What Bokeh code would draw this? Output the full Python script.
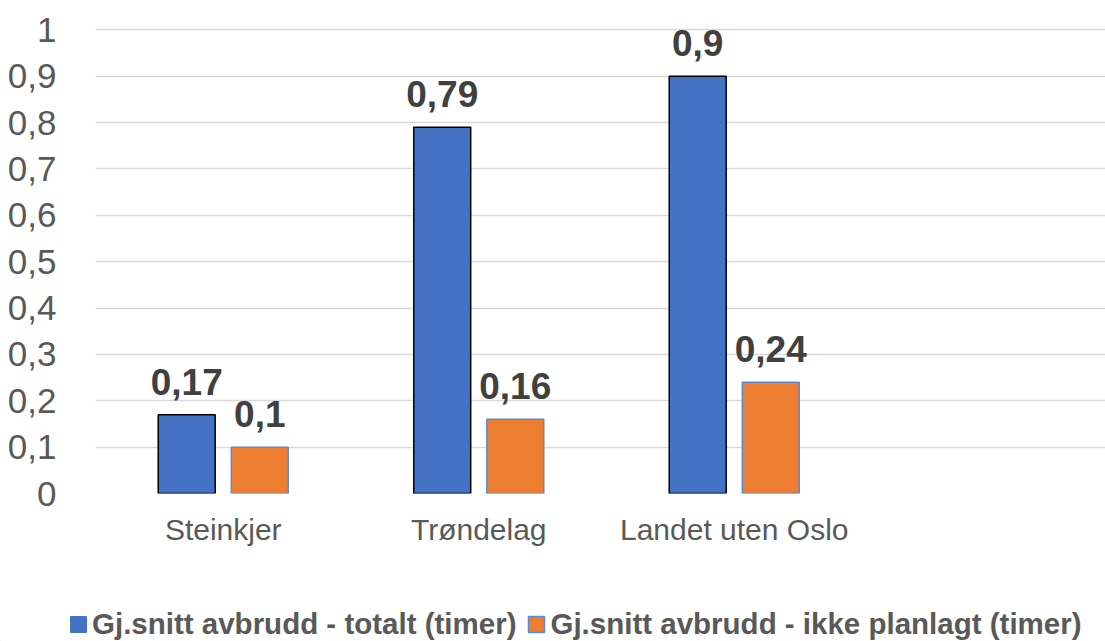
from bokeh.plotting import figure
from bokeh.models import ColumnDataSource, LabelSet, Legend, LegendItem, FixedTicker, Range1d
from bokeh.layouts import column
from bokeh.core.properties import value
from bokeh.embed import file_html
from bokeh.resources import INLINE

categories = ["Steinkjer", "Trøndelag", "Landet uten Oslo"]
totalt = [0.17, 0.79, 0.90]
ikke_planlagt = [0.10, 0.16, 0.24]
y_ticks = [0, 0.1, 0.2, 0.3, 0.4, 0.5, 0.6, 0.7, 0.8, 0.9, 1.0]
y_tick_labels = ["0", "0,1", "0,2", "0,3", "0,4", "0,5", "0,6", "0,7", "0,8", "0,9", "1"]
series_names = ["Gj.snitt avbrudd - totalt (timer)", "Gj.snitt avbrudd - ikke planlagt (timer)"]
colors = ["#4472C4", "#ED7D31"]
outlines = ["black", "#5B8BD6"]

FONT = "Liberation Sans"
centers = [i + 0.5 for i in range(len(categories))]
off = 0.143
bw = 0.223
W = 1105
FRAME_W = W - 95


def fmt(v):
    return ("%g" % v).replace(".", ",")


src1 = ColumnDataSource(dict(x=[c - off for c in centers], top=totalt, lab=[fmt(v) for v in totalt]))
src2 = ColumnDataSource(dict(x=[c + off for c in centers], top=ikke_planlagt, lab=[fmt(v) for v in ikke_planlagt]))

p = figure(width=W, height=563, output_backend="svg", toolbar_location=None,
           x_range=Range1d(0, FRAME_W / 255.5), y_range=Range1d(0, 1.005),
           min_border_left=95, min_border_right=0, min_border_top=27, min_border_bottom=70)
p.outline_line_color = None
p.background_fill_color = "white"

r1 = p.vbar(x="x", top="top", width=bw, source=src1, fill_color=colors[0],
            line_color=outlines[0], line_width=1.5)
r2 = p.vbar(x="x", top="top", width=bw, source=src2, fill_color=colors[1],
            line_color=outlines[1], line_width=1.5)

for s in (src1, src2):
    p.add_layout(LabelSet(x="x", y="top", text="lab", source=s, y_offset=20,
                          text_align="center", text_baseline="alphabetic",
                          text_font=value(FONT), text_font_size="37px", text_font_style="bold",
                          text_color="#404040"))

p.xaxis.ticker = FixedTicker(ticks=centers)
p.xaxis.major_label_overrides = {c: n for c, n in zip(centers, categories)}
p.xaxis.axis_line_color = None
p.xaxis.major_tick_line_color = None
p.xaxis.minor_tick_line_color = None
p.xaxis.major_label_text_font = FONT
p.xaxis.major_label_text_font_size = "30px"
p.xaxis.major_label_text_color = "#595959"
p.xaxis.major_label_standoff = 13
p.xgrid.grid_line_color = None

p.yaxis.ticker = FixedTicker(ticks=y_ticks)
p.yaxis.major_label_overrides = {t: l for t, l in zip(y_ticks, y_tick_labels)}
p.yaxis.axis_line_color = None
p.yaxis.major_tick_line_color = None
p.yaxis.minor_tick_line_color = None
p.yaxis.major_label_text_font = FONT
p.yaxis.major_label_text_font_size = "35px"
p.yaxis.major_label_text_color = "#595959"
p.yaxis.major_label_standoff = 33
p.ygrid.ticker = FixedTicker(ticks=y_ticks)
p.ygrid.grid_line_color = "#D9D9D9"
p.ygrid.grid_line_width = 1.5

# legend strip below the chart
lg = figure(width=W, height=78, output_backend="svg", toolbar_location=None,
            x_range=Range1d(0, 1), y_range=Range1d(0, 1),
            min_border_left=0, min_border_right=0, min_border_top=0, min_border_bottom=0)
lg.frame_align = False
lg.axis.visible = False
lg.grid.grid_line_color = None
lg.outline_line_color = None
d1 = lg.vbar(x=[-5], top=[-5], width=0.1, fill_color=colors[0], line_color=colors[0])
d2 = lg.vbar(x=[-5], top=[-5], width=0.1, fill_color=colors[1], line_color=outlines[1], line_width=1.5)
legend = Legend(items=[LegendItem(label=series_names[0], renderers=[d1]),
                       LegendItem(label=series_names[1], renderers=[d2])],
                orientation="horizontal", location=(68, 0),
                label_text_font=FONT, label_text_font_size="29.5px", label_text_font_style="bold",
                label_text_color="#595959", glyph_width=20, glyph_height=20,
                label_standoff=4, spacing=10, padding=0, margin=0, border_line_color=None,
                background_fill_alpha=0)
lg.add_layout(legend, "center")

open("out.html", "w").write(file_html(column(p, lg, spacing=0), INLINE))
